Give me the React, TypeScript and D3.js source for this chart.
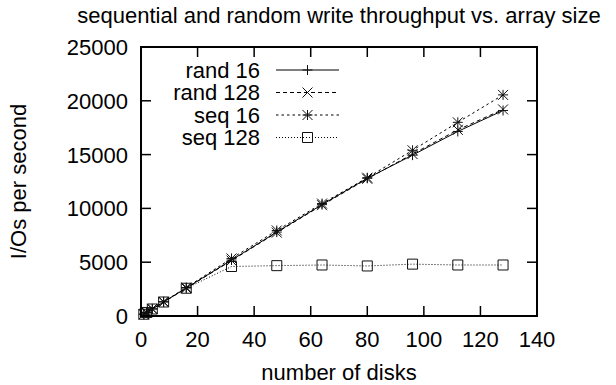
import React, { useRef, useEffect } from "react";
import * as d3 from "d3";

const disks = [1, 2, 4, 8, 16, 32, 48, 64, 80, 96, 112, 128];
const rand16 = [165, 330, 650, 1300, 2600, 5200, 7800, 10350, 12800, 14950, 17150, 19100];
const rand128 = [160, 320, 640, 1290, 2580, 5150, 7750, 10300, 12750, 15050, 17300, 19200];
const seq16 = [170, 340, 670, 1330, 2650, 5350, 7950, 10450, 12850, 15400, 18000, 20550];
const seq128 = [165, 330, 650, 1300, 2580, 4600, 4680, 4740, 4650, 4820, 4740, 4740];
const seriesNames = ["rand 16", "rand 128", "seq 16", "seq 128"];
const xTicks = [0, 20, 40, 60, 80, 100, 120, 140];
const yTicks = [0, 5000, 10000, 15000, 20000, 25000];

const W = 616;
const H = 385;
const m = { left: 141, right: 79, top: 47, bottom: 69 };
const FONT = "'Liberation Sans', Arial, sans-serif";
const FS = 22;

type Mark = "plus" | "cross" | "star" | "square";
const styles: { dash: string | null; mark: Mark }[] = [
  { dash: null, mark: "plus" },
  { dash: "4,3", mark: "cross" },
  { dash: "2.5,3", mark: "star" },
  { dash: "1,2", mark: "square" },
];

function drawMark(g: d3.Selection<SVGGElement, unknown, null, undefined>, kind: Mark, cx: number, cy: number) {
  const r = 5;
  const p = d3.path();
  if (kind === "plus" || kind === "star") {
    p.moveTo(cx - r, cy); p.lineTo(cx + r, cy);
    p.moveTo(cx, cy - r); p.lineTo(cx, cy + r);
  }
  if (kind === "cross" || kind === "star") {
    p.moveTo(cx - r, cy - r); p.lineTo(cx + r, cy + r);
    p.moveTo(cx - r, cy + r); p.lineTo(cx + r, cy - r);
  }
  if (kind === "square") {
    p.rect(cx - r, cy - r, 2 * r, 2 * r);
  }
  g.append("path").attr("d", p.toString()).attr("fill", "none").attr("stroke", "#111").attr("stroke-width", 1);
}

const App: React.FC = () => {
  const svgRef = useRef<SVGSVGElement | null>(null);

  useEffect(() => {
    const svg = d3.select(svgRef.current);
    svg.selectAll("*").remove();

    const x = d3.scaleLinear().domain([0, 140]).range([m.left, W - m.right]);
    const y = d3.scaleLinear().domain([0, 25000]).range([H - m.bottom, m.top]);
    const data = [rand16, rand128, seq16, seq128];

    const g = svg.append("g");
    const x0 = x(0), x1 = x(140), y0 = y(0), y1 = y(25000);
    const tl = 10;

    // ticks on all four sides, pointing inward
    xTicks.slice(1, -1).forEach(t => {
      g.append("line").attr("x1", x(t)).attr("x2", x(t)).attr("y1", y0).attr("y2", y0 - tl).attr("stroke", "#000").attr("stroke-width", 1.5);
      g.append("line").attr("x1", x(t)).attr("x2", x(t)).attr("y1", y1).attr("y2", y1 + tl).attr("stroke", "#000").attr("stroke-width", 1.5);
    });
    yTicks.slice(1, -1).forEach(t => {
      g.append("line").attr("x1", x0).attr("x2", x0 + tl).attr("y1", y(t)).attr("y2", y(t)).attr("stroke", "#000").attr("stroke-width", 1.5);
      g.append("line").attr("x1", x1).attr("x2", x1 - tl).attr("y1", y(t)).attr("y2", y(t)).attr("stroke", "#000").attr("stroke-width", 1.5);
    });

    xTicks.forEach(t => {
      g.append("text").attr("x", x(t)).attr("y", y0 + 31).attr("text-anchor", "middle")
        .attr("font-family", FONT).attr("font-size", FS).text(t);
    });
    yTicks.forEach(t => {
      g.append("text").attr("x", x0 - 13).attr("y", y(t) + 8).attr("text-anchor", "end")
        .attr("font-family", FONT).attr("font-size", FS).text(t);
    });

    // legend
    const lx = 260, ly = 70, lh = 22.5;
    seriesNames.forEach((name, i) => {
      const yy = ly + i * lh;
      g.append("text").attr("x", lx).attr("y", yy + 7.5).attr("text-anchor", "end")
        .attr("font-family", FONT).attr("font-size", FS).text(name);
      g.append("line").attr("x1", 276).attr("x2", 339).attr("y1", yy).attr("y2", yy)
        .attr("stroke", "#000").attr("stroke-width", 1)
        .attr("stroke-dasharray", styles[i].dash);
      drawMark(g, styles[i].mark, 307.5, yy);
    });

    // series
    const line = d3.line<number>().x((_, i) => x(disks[i])).y(d => y(d));
    data.forEach((vals, i) => {
      g.append("path").datum(vals).attr("d", line).attr("fill", "none")
        .attr("stroke", "#000").attr("stroke-width", 1)
        .attr("stroke-dasharray", styles[i].dash);
      vals.forEach((v, j) => drawMark(g, styles[i].mark, x(disks[j]), y(v)));
    });

    // frame
    g.append("rect").attr("x", x0).attr("y", y1).attr("width", x1 - x0).attr("height", y0 - y1)
      .attr("fill", "none").attr("stroke", "#000").attr("stroke-width", 2);

    g.append("text").attr("x", (x0 + x1) / 2).attr("y", 23).attr("text-anchor", "middle")
      .attr("font-family", FONT).attr("font-size", FS).text("sequential and random write throughput vs. array size");
    g.append("text").attr("x", (x0 + x1) / 2).attr("y", 380).attr("text-anchor", "middle")
      .attr("font-family", FONT).attr("font-size", FS).text("number of disks");
    g.append("text").attr("transform", `translate(26,${(y0 + y1) / 2}) rotate(-90)`).attr("text-anchor", "middle")
      .attr("font-family", FONT).attr("font-size", FS).text("I/Os per second");
  }, []);

  return (
    <svg ref={svgRef} width={W} height={H}
      style={{ position: "absolute", left: 0, top: 0, background: "#fff" }} />
  );
};

export default App;
